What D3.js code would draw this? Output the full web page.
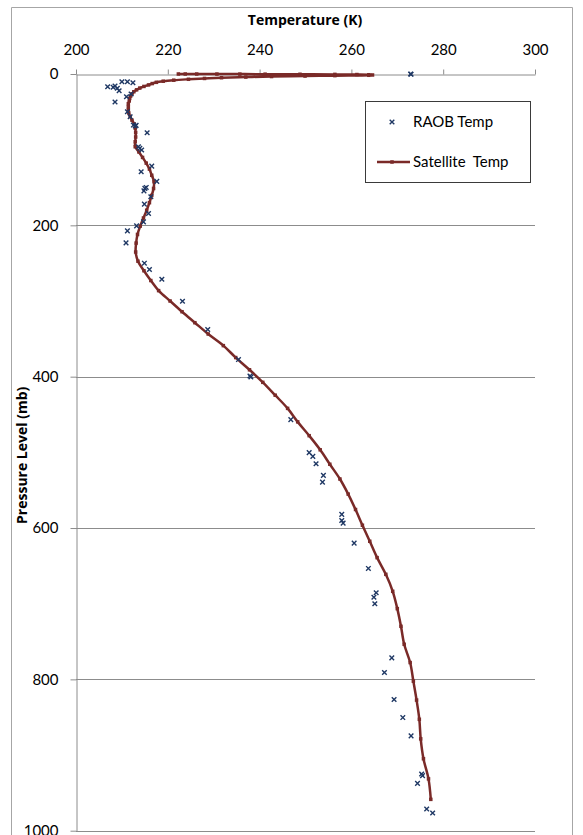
<!DOCTYPE html>
<html>
<head>
<meta charset="utf-8">
<script src="https://cdn.jsdelivr.net/npm/d3@7"></script>
<style>
  html, body { margin: 0; padding: 0; background: #fff; }
  svg { display: block; }
  text { font-family: Lato, "Open Sans", sans-serif; fill: #000; }
</style>
</head>
<body>
<svg id="chart" width="583" height="835"></svg>
<script>
// ---- data ----
const xTicks = [200, 220, 240, 260, 280, 300];
const yTicks = [0, 200, 400, 600, 800, 1000];

// Satellite retrieval: pressure levels (mb) and temperatures (K)
const satPressure = [0.005, 0.0161, 0.0384, 0.0769, 0.137, 0.2244, 0.3454, 0.5064, 0.714, 0.9753,
  1.2972, 1.6872, 2.1526, 2.7009, 3.3398, 4.077, 4.9204, 5.8776, 6.9567, 8.1655,
  9.5119, 11.0038, 12.6492, 14.4559, 16.4318, 18.5847, 20.9224, 23.4526, 26.1829, 29.121,
  32.2744, 35.6505, 39.2566, 43.1001, 47.1882, 51.5278, 56.126, 60.9895, 66.1253, 71.5398,
  77.2396, 83.231, 89.5204, 96.1138, 103.0172, 110.2366, 117.7775, 125.6456, 133.8462, 142.3848,
  151.2664, 160.4959, 170.0784, 180.0183, 190.3203, 200.9887, 212.0277, 223.4415, 235.2338, 247.4085,
  259.9691, 272.9191, 286.2617, 300.0, 314.1369, 328.6753, 343.6176, 358.9665, 374.7241, 390.8926,
  407.4738, 424.4698, 441.8819, 459.7118, 477.9607, 496.6298, 515.72, 535.2322, 555.1669, 575.5248,
  596.3062, 617.5112, 639.1398, 661.192, 683.6673, 706.5654, 729.8857, 753.6275, 777.7897, 802.3714,
  827.3713, 852.788, 878.6201, 904.8659, 931.5236, 958.5911];
const satTemp = [222.3, 223.8, 226.3, 230.7, 235.7, 241.2, 248.8, 256.4, 261.2, 263.8,
  264.6, 263.8, 256.4, 249.9, 242.6, 237.0, 231.7, 228.0, 224.5, 221.3,
  219.0, 217.5, 216.6, 215.8, 214.8, 213.9, 213.2, 212.6, 212.2, 211.9,
  211.7, 211.6, 211.4, 211.4, 211.4, 211.5, 211.8, 212.2, 212.7, 212.9,
  213.0, 213.0, 212.9, 212.9, 213.7, 214.5, 215.3, 216.0, 216.5, 217.0,
  216.9, 216.5, 216.0, 215.4, 214.7, 214.0, 213.4, 213.1, 213.0, 213.5,
  214.8, 216.3, 218.0, 220.5, 223.1, 225.9, 228.8, 232.1, 234.8, 237.8,
  240.7, 243.4, 246.1, 248.3, 250.8, 253.2, 255.3, 257.5, 259.3, 260.9,
  262.4, 264.0, 265.6, 267.5, 269.0, 270.0, 270.8, 271.5, 272.8, 273.5,
  274.2, 274.8, 275.1, 275.7, 276.8, 277.3];

// Radiosonde observations
const raobPressure = [0, 0.3, 16.8, 17.6, 15.9, 18.9, 22.1, 10.2, 10.2, 11.5,
  37, 30, 26.4, 49.9, 56.5, 67.5, 68.8, 67.9, 77.6, 96.2,
  98.3, 100.5, 121.7, 129.2, 141.9, 151.2, 149.9, 154.4, 162.3, 172,
  184.3, 200.7, 195.4, 207.3, 223.2, 250, 258.3, 271.2, 300.3, 337.7,
  377.4, 399.1, 400.4, 456.7, 500.4, 505.3, 515, 530.4, 539.3, 582,
  590, 593.5, 620, 653.4, 685.6, 691.4, 700.1, 771.6, 791, 826.7,
  850.5, 874.7, 925, 927.2, 937.4, 971.3, 976.6];
const raobTemp = [272.9, 273.0, 206.9, 208.1, 208.5, 209.0, 209.4, 210.0, 211.2, 212.4,
  208.5, 211.0, 212.0, 211.2, 211.8, 212.5, 212.9, 213.1, 215.5, 213.6,
  213.9, 214.3, 216.5, 214.2, 217.6, 215.0, 215.3, 214.8, 216.3, 214.9,
  215.8, 213.2, 214.7, 211.2, 210.9, 214.9, 216.0, 218.7, 223.2, 228.7,
  235.4, 237.9, 238.1, 246.8, 250.8, 251.6, 252.3, 253.9, 253.7, 257.9,
  257.9, 258.2, 260.6, 263.7, 265.4, 264.9, 265.1, 268.8, 267.2, 269.3,
  271.2, 273.0, 275.3, 275.5, 274.4, 276.4, 277.7];

const seriesNames = ["RAOB Temp", "Satellite  Temp"];

// ---- drawing ----
const svg = d3.select("#chart");
const lineColor = "#7a2a28";
const raobColor = "#1f3864";
const gridColor = "#8c8c8c";

const x = d3.scaleLinear().domain([200, 300]).range([76, 535]);
const y = d3.scaleLinear().domain([0, 1000]).range([74, 830.7]);

// outer chart frame
svg.append("path")
  .attr("d", "M11.5,840V7.5H572.5V840")
  .attr("fill", "none").attr("stroke", "#a6a6a6").attr("stroke-width", 1);

// horizontal gridlines
svg.append("g").selectAll("line").data(yTicks.slice(1)).join("line")
  .attr("x1", x(200)).attr("x2", x(300))
  .attr("y1", d => Math.round(y(d)) + 0.5).attr("y2", d => Math.round(y(d)) + 0.5)
  .attr("stroke", gridColor).attr("stroke-width", 1);

// top axis
const topAxis = svg.append("g")
  .attr("transform", `translate(0,${Math.round(y(0)) + 0.5})`)
  .call(d3.axisTop(x).tickValues(xTicks).tickFormat(d3.format("d")).tickSize(5).tickPadding(15).tickSizeOuter(0));
topAxis.selectAll("path,line").attr("stroke", gridColor);
topAxis.selectAll("text").style("font-size", "15px").style("font-family", "Lato, sans-serif").attr("fill", "#000");

// left axis
const leftAxis = svg.append("g")
  .attr("transform", `translate(${Math.round(x(200)) + 0.5},0)`)
  .call(d3.axisLeft(y).tickValues(yTicks).tickFormat(d3.format("d")).tickSize(6).tickPadding(12).tickSizeOuter(0));
leftAxis.selectAll("path,line").attr("stroke", gridColor);
leftAxis.selectAll("text").style("font-size", "15px").style("font-family", "Lato, sans-serif").attr("fill", "#000");

// axis titles
svg.append("text").attr("x", 305).attr("y", 25).attr("text-anchor", "middle")
  .style("font-family", "'Open Sans', sans-serif")
  .style("font-size", "14px").style("font-weight", "bold").text("Temperature (K)");
svg.append("text").attr("transform", `translate(27,${(y(0) + y(1000)) / 2 + 3}) rotate(-90)`)
  .attr("text-anchor", "middle")
  .style("font-family", "'Open Sans', sans-serif")
  .style("font-size", "14px").style("font-weight", "bold").text("Pressure Level (mb)");

// satellite line
const satData = satPressure.map((p, i) => ({ p, t: satTemp[i] }));
svg.append("path").datum(satData)
  .attr("d", d3.line().x(d => x(d.t)).y(d => y(d.p)).curve(d3.curveCatmullRom.alpha(0.5)))
  .attr("fill", "none").attr("stroke", lineColor).attr("stroke-width", 2.5).attr("stroke-linejoin", "round");
svg.append("g").selectAll("rect").data(satData).join("rect")
  .attr("x", d => x(d.t) - 1.75).attr("y", d => y(d.p) - 1.75)
  .attr("width", 3.5).attr("height", 3.5).attr("fill", lineColor);

// RAOB crosses
const raobData = raobPressure.map((p, i) => ({ p, t: raobTemp[i] }));
const s = 2.3;
svg.append("g").selectAll("path").data(raobData).join("path")
  .attr("d", d => {
    const cx = x(d.t), cy = y(d.p);
    return `M${cx - s},${cy - s}L${cx + s},${cy + s}M${cx - s},${cy + s}L${cx + s},${cy - s}`;
  })
  .attr("stroke", raobColor).attr("stroke-width", 1.4).attr("fill", "none");

// legend
const lg = svg.append("g");
lg.append("rect").attr("x", 365.5).attr("y", 101.5).attr("width", 165).attr("height", 81)
  .attr("fill", "#fff").attr("stroke", "#3a3a3a").attr("stroke-width", 1);
lg.append("path")
  .attr("d", `M${392 - s},${122 - s}L${392 + s},${122 + s}M${392 - s},${122 + s}L${392 + s},${122 - s}`)
  .attr("stroke", raobColor).attr("stroke-width", 1.4);
lg.append("text").attr("x", 413).attr("y", 127).style("font-size", "15px").text(seriesNames[0]);
lg.append("line").attr("x1", 377).attr("x2", 410).attr("y1", 162).attr("y2", 162)
  .attr("stroke", lineColor).attr("stroke-width", 2.5);
lg.append("rect").attr("x", 392 - 1.75).attr("y", 162 - 1.75).attr("width", 3.5).attr("height", 3.5).attr("fill", lineColor);
lg.append("text").attr("x", 413).attr("y", 167).style("font-size", "15px").style("white-space", "pre")
  .attr("xml:space", "preserve").text(seriesNames[1]);
</script>
</body>
</html>
